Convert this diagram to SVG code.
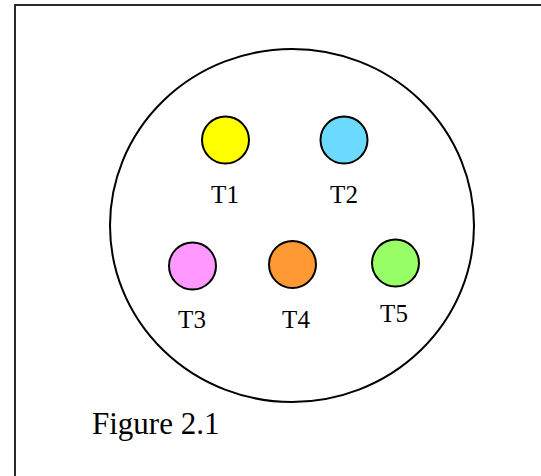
<svg xmlns="http://www.w3.org/2000/svg" width="541" height="476" viewBox="0 0 541 476">
  <style>
    .frame { fill: none; stroke: #2a2a2a; stroke-width: 2; }
    .outer { fill: #ffffff; stroke: #000000; stroke-width: 2; }
    .dot { stroke: #000000; stroke-width: 2; }
    .lbl { font-family: "Liberation Serif", "Times New Roman", serif; font-size: 25px; fill: #000000; text-anchor: middle; }
    .cap { font-family: "Liberation Serif", "Times New Roman", serif; font-size: 31px; fill: #000000; }
  </style>
  <rect width="541" height="476" fill="#ffffff"/>
  <!-- page frame, running off the right and bottom edges -->
  <rect class="frame" x="15" y="5" width="600" height="600"/>
  <!-- enclosing circle -->
  <ellipse id="boundary" class="outer" cx="292" cy="225.5" rx="182" ry="176.5"/>
  <g id="connectors"></g>
  <g id="T1">
    <circle class="dot" cx="225.5" cy="140" r="23.5" fill="#ffff00"/>
    <text class="lbl" x="225" y="203">T1</text>
  </g>
  <g id="T2">
    <circle class="dot" cx="344" cy="140" r="23.5" fill="#6cd9ff"/>
    <text class="lbl" x="344" y="203">T2</text>
  </g>
  <g id="T3">
    <circle class="dot" cx="192.5" cy="266" r="23.5" fill="#ff99ff"/>
    <text class="lbl" x="192" y="328">T3</text>
  </g>
  <g id="T4">
    <circle class="dot" cx="292.5" cy="264.5" r="23.5" fill="#ff9933"/>
    <text class="lbl" x="296" y="328">T4</text>
  </g>
  <g id="T5">
    <circle class="dot" cx="395.5" cy="263" r="23.5" fill="#99ff66"/>
    <text class="lbl" x="394" y="322">T5</text>
  </g>
  <text id="caption" class="cap" x="92" y="434">Figure 2.1</text>
</svg>
